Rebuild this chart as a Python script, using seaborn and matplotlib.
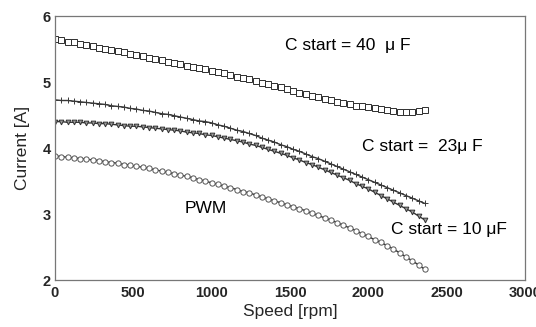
import numpy as np
import pandas as pd
import matplotlib
matplotlib.use("Agg")
import matplotlib.pyplot as plt
import seaborn as sns

# Motor speed grid [rpm]
speed = [0, 40, 80, 120, 160, 200, 240, 280, 320, 360, 400, 440, 480, 520, 560,
         600, 640, 680, 720, 760, 800, 840, 880, 920, 960, 1000, 1040, 1080, 1120,
         1160, 1200, 1240, 1280, 1320, 1360, 1400, 1440, 1480, 1520, 1560, 1600,
         1640, 1680, 1720, 1760, 1800, 1840, 1880, 1920, 1960, 2000, 2040, 2080,
         2120, 2160, 2200, 2240, 2280, 2320, 2360]

# Current [A] for each start capacitor / PWM drive
cstart_40 = [5.65, 5.63, 5.61, 5.60, 5.58, 5.56, 5.54, 5.52, 5.50, 5.49, 5.47, 5.45,
             5.43, 5.41, 5.39, 5.37, 5.35, 5.33, 5.31, 5.29, 5.27, 5.25, 5.23, 5.21,
             5.19, 5.17, 5.15, 5.13, 5.10, 5.08, 5.06, 5.04, 5.01, 4.99, 4.97, 4.94,
             4.92, 4.89, 4.87, 4.84, 4.82, 4.79, 4.77, 4.74, 4.72, 4.70, 4.68, 4.66,
             4.64, 4.63, 4.62, 4.60, 4.59, 4.58, 4.56, 4.55, 4.55, 4.55, 4.56, 4.57]

cstart_23 = [4.73, 4.72, 4.72, 4.71, 4.70, 4.69, 4.68, 4.67, 4.66, 4.64, 4.63, 4.62,
             4.60, 4.59, 4.57, 4.56, 4.54, 4.52, 4.51, 4.49, 4.47, 4.45, 4.43, 4.41,
             4.40, 4.38, 4.35, 4.33, 4.30, 4.27, 4.25, 4.22, 4.19, 4.15, 4.12, 4.09,
             4.05, 4.02, 3.98, 3.95, 3.91, 3.87, 3.84, 3.80, 3.76, 3.72, 3.68, 3.64,
             3.60, 3.56, 3.52, 3.48, 3.44, 3.40, 3.36, 3.32, 3.28, 3.24, 3.20, 3.16]

cstart_10 = [4.40, 4.40, 4.39, 4.39, 4.39, 4.38, 4.38, 4.37, 4.37, 4.36, 4.35, 4.34,
             4.33, 4.33, 4.32, 4.31, 4.30, 4.29, 4.28, 4.27, 4.26, 4.24, 4.23, 4.22,
             4.20, 4.19, 4.17, 4.15, 4.13, 4.11, 4.09, 4.06, 4.04, 4.01, 3.98, 3.95,
             3.92, 3.89, 3.85, 3.82, 3.78, 3.75, 3.71, 3.67, 3.63, 3.59, 3.55, 3.51,
             3.46, 3.42, 3.38, 3.33, 3.28, 3.23, 3.18, 3.13, 3.08, 3.03, 2.97, 2.91]

pwm = [3.88, 3.87, 3.86, 3.85, 3.84, 3.83, 3.82, 3.81, 3.79, 3.78, 3.77, 3.75,
       3.74, 3.72, 3.71, 3.69, 3.67, 3.65, 3.63, 3.61, 3.59, 3.57, 3.55, 3.52,
       3.50, 3.47, 3.45, 3.42, 3.40, 3.37, 3.34, 3.32, 3.29, 3.26, 3.23, 3.20,
       3.17, 3.14, 3.11, 3.08, 3.05, 3.01, 2.98, 2.94, 2.91, 2.87, 2.83, 2.79,
       2.75, 2.70, 2.66, 2.61, 2.57, 2.52, 2.47, 2.41, 2.35, 2.29, 2.23, 2.16]

series = {
    "C start = 40 μF": cstart_40,
    "C start = 23 μF": cstart_23,
    "C start = 10 μF": cstart_10,
    "PWM": pwm,
}
# marker, size, face colour, edge colour
styles = {
    "C start = 40 μF": ("s", 4.0, "white", "#2e2e2e"),
    "C start = 23 μF": ("+", 4.0, "none", "#3a3a3a"),
    "C start = 10 μF": ("v", 3.4, "#9a9a9a", "#333333"),
    "PWM": ("o", 3.8, "white", "#555555"),
}

df = pd.concat(
    [pd.DataFrame({"Speed": speed, "Current": vals, "Mode": name})
     for name, vals in series.items()],
    ignore_index=True,
)

sns.set_theme(style="white")
plt.rcParams["font.family"] = ["Liberation Sans", "DejaVu Sans"]

fig = plt.figure(figsize=(5.36, 3.27), dpi=100)
ax = fig.add_axes([0.1026, 0.1437, 0.877, 0.8073])

for name in series:
    sub = df[df["Mode"] == name]
    mk, ms, fc, ec = styles[name]
    sns.lineplot(data=sub, x="Speed", y="Current", ax=ax, color="#333333",
                 linewidth=1.0, marker=mk, markersize=ms,
                 markerfacecolor=fc, markeredgecolor=ec,
                 markeredgewidth=0.7, legend=False)

ax.set_xlim(0, 3000)
ax.set_ylim(2, 6)
ax.set_xticks([0, 500, 1000, 1500, 2000, 2500, 3000])
ax.set_yticks([2, 3, 4, 5, 6])
ax.tick_params(direction="in", length=3, width=0.8, color="#777777",
               labelsize=10.5, pad=3)
for lab in ax.get_xticklabels() + ax.get_yticklabels():
    lab.set_fontweight("bold")
ax.tick_params(axis="x", pad=4)
for sp in ax.spines.values():
    sp.set_color("#777777")
    sp.set_linewidth(0.9)

ax.set_xlabel("Speed [rpm]", fontsize=12.5, labelpad=3)
ax.set_ylabel("Current [A]", fontsize=12.5, labelpad=9)

txt = dict(fontsize=12.5, color="black", va="center", ha="left")
ax.text(1468, 5.56, "C start = 40  μ F", **txt)
ax.text(1960, 4.02, "C start =  23μ F", **txt)
ax.text(2142, 2.77, "C start = 10 μF", **txt)
ax.text(830, 3.08, "PWM", **txt)

fig.savefig("out.png", dpi=100)
